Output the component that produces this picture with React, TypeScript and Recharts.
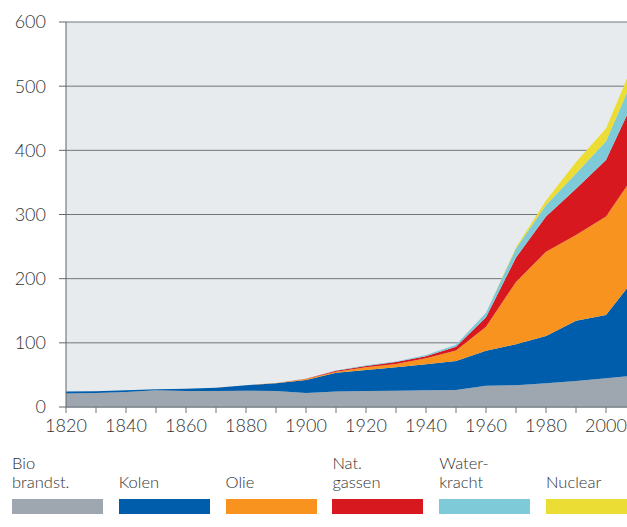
import { Area, AreaChart, CartesianGrid, XAxis, YAxis } from "recharts";

const years = [1820, 1830, 1840, 1850, 1860, 1870, 1880, 1890, 1900, 1910, 1920, 1930, 1940, 1950, 1960, 1970, 1980, 1990, 2000, 2007];
const bio = [21, 22, 23.5, 26, 25, 25, 25.5, 25, 22, 24, 25, 25.5, 26, 26.5, 33, 34, 37, 40.5, 45, 48];
const kolen = [3, 2.5, 2.5, 1.5, 3.5, 5, 8.5, 12, 20, 29.5, 32.7, 36.5, 40.5, 45, 54.5, 63.7, 73.6, 94, 98.4, 137];
const olie = [0, 0, 0, 0, 0, 0, 0, 0.5, 1.5, 1.5, 4.3, 5, 9.5, 16.5, 37.5, 97.3, 131.4, 133.5, 153.6, 160];
const gas = [0, 0, 0, 0, 0, 0, 0, 0, 0.5, 1.5, 2, 3, 3, 6, 15, 38, 55, 72, 88, 110];
const water = [0, 0, 0, 0, 0, 0, 0, 0, 0, 0.5, 1, 1, 2, 3, 7, 14, 18, 24, 29, 35];
const nuclear = [0, 0, 0, 0, 0, 0, 0, 0, 0, 0, 0, 0, 0, 0, 0, 2, 7, 18, 20, 22];

const xTicks = [1820, 1830, 1840, 1850, 1860, 1870, 1880, 1890, 1900, 1910, 1920, 1930, 1940, 1950, 1960, 1970, 1980, 1990, 2000];
const yTicks = [0, 100, 200, 300, 400, 500, 600];

const series = [
  { key: "bio", label: ["Bio", "brandst."], color: "#9ea7b0" },
  { key: "kolen", label: ["Kolen"], color: "#005dab" },
  { key: "olie", label: ["Olie"], color: "#f7931e" },
  { key: "gas", label: ["Nat.", "gassen"], color: "#d7191f" },
  { key: "water", label: ["Water-", "kracht"], color: "#7ecad9" },
  { key: "nuclear", label: ["Nuclear"], color: "#ebdd34" },
];

const data = years.map((year, i) => ({
  year,
  bio: bio[i],
  kolen: kolen[i],
  olie: olie[i],
  gas: gas[i],
  water: water[i],
  nuclear: nuclear[i],
}));

const font = "Lato, 'Open Sans', sans-serif";
const textColor = "#333333";

export default function App() {
  return (
    <div style={{ width: 627, height: 527, position: "relative", fontFamily: font, overflow: "hidden" }}>
      <style>{`body{margin:0}`}</style>
      <AreaChart width={627} height={440} data={data} margin={{ top: 22, right: 0, left: 0, bottom: 0 }}>
        <CartesianGrid vertical={false} fill="#e8ebee" stroke="#6e767c" strokeWidth={1} />
        <XAxis
          dataKey="year"
          type="number"
          domain={[1820, 2007]}
          ticks={xTicks}
          tickFormatter={(v) => (v % 20 === 0 ? String(v) : "")}
          height={33}
          tickSize={6}
          tickMargin={6}
          interval={0}
          stroke="#6e767c"
          tick={{ fontSize: 18, fill: textColor, fontFamily: font, fontWeight: 300 }}
        />
        <YAxis
          domain={[0, 600]}
          ticks={yTicks}
          width={66}
          tickSize={7}
          tickMargin={13}
          interval={0}
          stroke="#5f676d"
          tick={{ fontSize: 18, fill: textColor, fontFamily: font, fontWeight: 300 }}
        />
        {series.map((s) => (
          <Area
            key={s.key}
            dataKey={s.key}
            stackId="1"
            type="linear"
            stroke="none"
            fill={s.color}
            fillOpacity={1}
            isAnimationActive={false}
          />
        ))}
      </AreaChart>
      {series.map((s, i) => (
        <div key={s.key} style={{ position: "absolute", left: 12 + i * 106.8, top: 452, width: 91 }}>
          <div
            style={{
              height: 40,
              display: "flex",
              flexDirection: "column",
              justifyContent: "flex-end",
              fontSize: 16.5,
              lineHeight: "19px",
              color: textColor,
              fontWeight: 300,
              whiteSpace: "nowrap",
            }}
          >
            {s.label.map((l) => (
              <div key={l}>{l}</div>
            ))}
          </div>
          <div style={{ marginTop: 7, height: 15, background: s.color }} />
        </div>
      ))}
    </div>
  );
}
